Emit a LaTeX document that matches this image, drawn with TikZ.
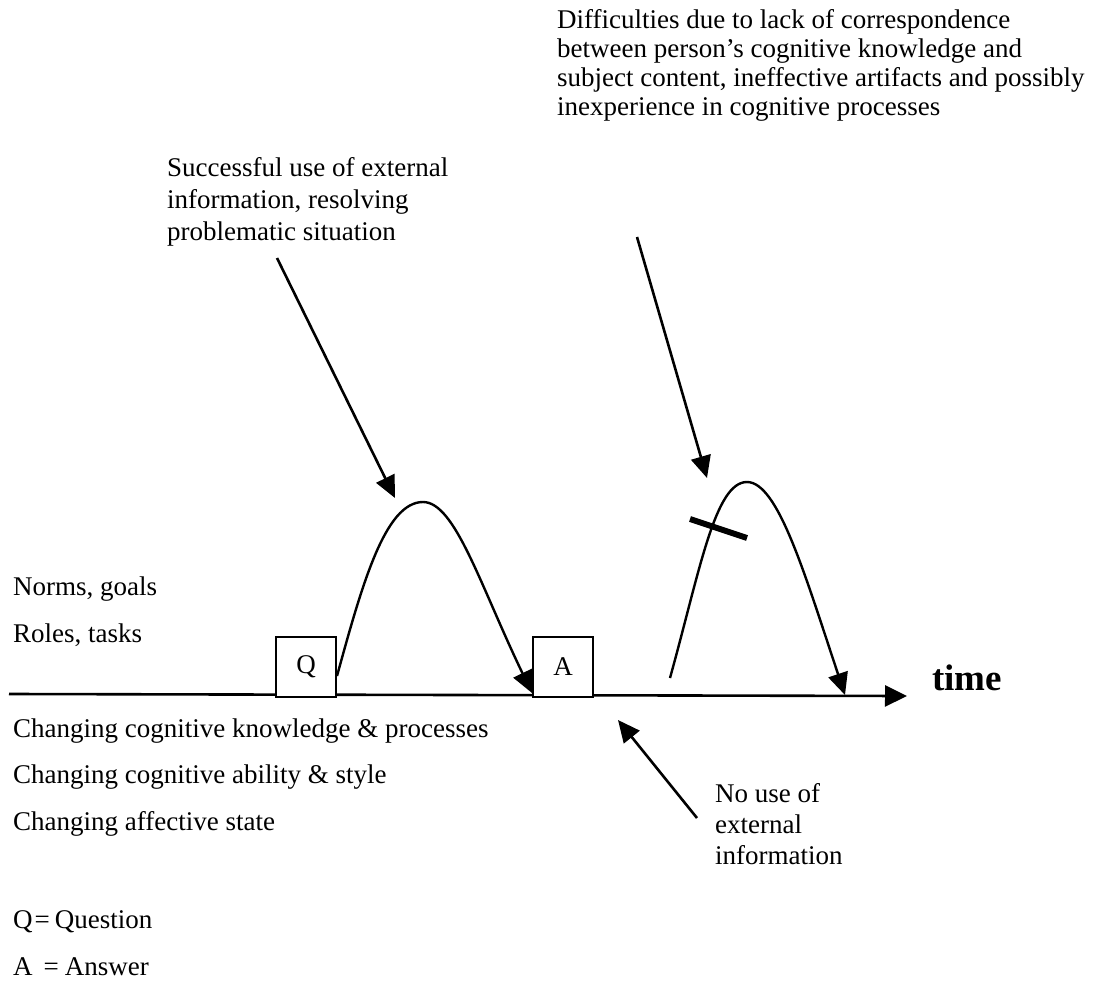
\documentclass[tikz,border=0pt]{standalone}
\usepackage{fontspec}
\setmainfont{Liberation Serif}
\usetikzlibrary{arrows.meta}

\tikzset{
  txt/.style={anchor=base west, inner sep=0pt, font=\fontsize{27}{29}\selectfont},
  letterbox/.style={draw, line width=2pt, fill=white, minimum width=60pt, minimum height=60pt,
                    inner sep=0pt, font=\fontsize{27}{29}\selectfont},
  pointer/.style={line width=2.6pt, -{Triangle[length=22pt,width=20pt]}},
  swing/.style={line width=2.4pt},
}

\begin{document}
\begin{tikzpicture}[x=1pt, y=-1pt]
  \useasboundingbox (0,0) rectangle (1096,982);

  % time axis
  \coordinate (t0) at (9,694);
  \coordinate (t1) at (907,696);
  \draw[line width=2.6pt, -{Triangle[length=22pt,width=21pt]}] (t0) -- (t1);
  \node[anchor=base west, inner sep=0pt, font=\fontsize{37}{40}\selectfont\bfseries] (time) at (932,690) {time};

  % question and answer boxes
  \node[letterbox] (Q) at (306,667) {Q};
  \node[letterbox] (A) at (563,667) {A};

  % successful excursion: from Q up and back down to A
  \coordinate (top1) at (423,502);
  \draw[swing, -{Triangle[length=22pt,width=20pt]}]
    ([yshift=22pt]Q.south east) .. controls (362,585) and (385,502) .. (top1)
    .. controls (455,502) and (480,585) .. ([yshift=5pt]A.south west);

  % failed excursion with a blocking bar
  \coordinate (s2) at (670,678);
  \coordinate (top2) at (747,482);
  \coordinate (e2) at (845,695);
  \draw[swing, -{Triangle[length=22pt,width=20pt]}]
    (s2) .. controls (700,570) and (715,482) .. (top2)
    .. controls (778,482) and (805,575) .. (e2);
  \coordinate (b1) at (690,519);
  \coordinate (b2) at (747,538);
  \draw[line width=6pt] (b1) -- (b2);

  % annotation texts
  \node[txt] (diff) at (557,29) {\vtop{\baselineskip=28.7pt
      \hbox{Difficulties due to lack of correspondence}
      \hbox{between person’s cognitive knowledge and}
      \hbox{subject content, ineffective artifacts and possibly}
      \hbox{inexperience in cognitive processes}}};
  \node[txt] (succ) at (167,176) {\vtop{\baselineskip=32pt
      \hbox{Successful use of external}
      \hbox{information, resolving}
      \hbox{problematic situation}}};
  \node[txt] (nouse) at (715,802) {\vtop{\baselineskip=31pt
      \hbox{No use of}
      \hbox{external}
      \hbox{information}}};

  % annotation pointers
  \coordinate (p1s) at (277,258);
  \coordinate (p1e) at (395,498);
  \draw[pointer] (p1s) -- (p1e);
  \coordinate (p2s) at (637,237);
  \coordinate (p2e) at (707,478);
  \draw[pointer] (p2s) -- (p2e);
  \coordinate (p3s) at (697,818);
  \coordinate (p3e) at (618,720);
  \draw[pointer] (p3s) -- (p3e);

  % context labels
  \node[txt] (norms) at (13,595) {Norms, goals};
  \node[txt] (roles) at (13,642) {Roles, tasks};
  \node[txt] (ck) at (13,737) {Changing cognitive knowledge \& processes};
  \node[txt] (ca) at (13,783) {Changing cognitive ability \& style};
  \node[txt] (af) at (13,830) {Changing affective state};

  % legend
  \node[txt] (legq) at (13,928) {Q{\kern2pt}={\kern5pt}Question};
  \node[txt] (lega) at (13,975) {A{\kern11pt}={\kern6pt}Answer};
\end{tikzpicture}
\end{document}
